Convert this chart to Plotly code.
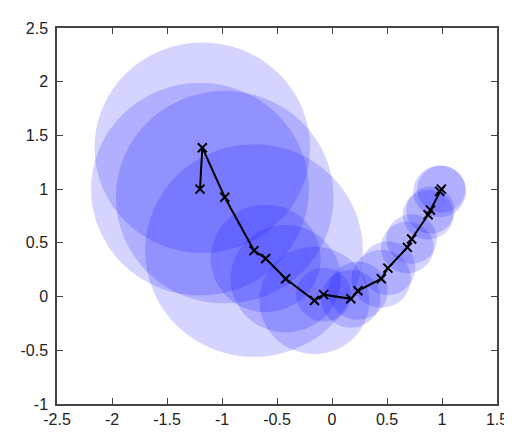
import plotly.graph_objects as go

# Path of the optimiser (means)
path_x = [-1.20, -1.179, -0.975, -0.709, -0.603, -0.421, -0.160, -0.076, 0.171,
          0.236, 0.448, 0.508, 0.685, 0.724, 0.874, 0.895, 0.979, 0.994]
path_y = [1.00, 1.386, 0.925, 0.428, 0.355, 0.166, -0.036, 0.018, -0.021,
          0.054, 0.166, 0.265, 0.458, 0.536, 0.762, 0.805, 0.979, 1.00]
# Radius of the search-distribution circle drawn at each point
radii = [0.99, 0.98, 0.99, 0.99, 0.50, 0.50, 0.50, 0.25, 0.27, 0.27,
         0.27, 0.25, 0.24, 0.23, 0.23, 0.22, 0.24, 0.22]

x_ticks = [-2.5, -2, -1.5, -1, -0.5, 0, 0.5, 1, 1.5]
y_ticks = [-1, -0.5, 0, 0.5, 1, 1.5, 2, 2.5]

fig = go.Figure()

shapes = []
for cx, cy, r in zip(path_x, path_y, radii):
    shapes.append(dict(type="circle", xref="x", yref="y",
                       x0=cx - r, x1=cx + r, y0=cy - r, y1=cy + r,
                       fillcolor="rgba(0,0,255,0.17)", line=dict(width=0),
                       layer="below"))

fig.add_trace(go.Scatter(
    x=path_x, y=path_y, mode="lines+markers",
    line=dict(color="black", width=2),
    marker=dict(symbol="x-thin", size=9, line=dict(width=2, color="black")),
    showlegend=False, hoverinfo="skip"))

axis_common = dict(showgrid=False, zeroline=False, showline=True,
                   linecolor="#444", linewidth=1.5, mirror="ticks",
                   ticks="inside", ticklen=6, tickwidth=1.2, tickcolor="#444",
                   tickfont=dict(family="Liberation Sans, Arial", size=16, color="#222"))

fig.update_layout(
    width=512, height=432,
    margin=dict(l=48, r=19, t=13, b=32),
    paper_bgcolor="white", plot_bgcolor="white",
    shapes=shapes,
    xaxis=dict(range=[-2.5, 1.5], tickvals=x_ticks,
               ticktext=[f"{v:g}" for v in x_ticks], **axis_common),
    yaxis=dict(range=[-1, 2.5], tickvals=y_ticks, ticklabelstandoff=4,
               ticktext=[f"{v:g}" for v in y_ticks], **axis_common),
)

fig.write_html("out.html")
